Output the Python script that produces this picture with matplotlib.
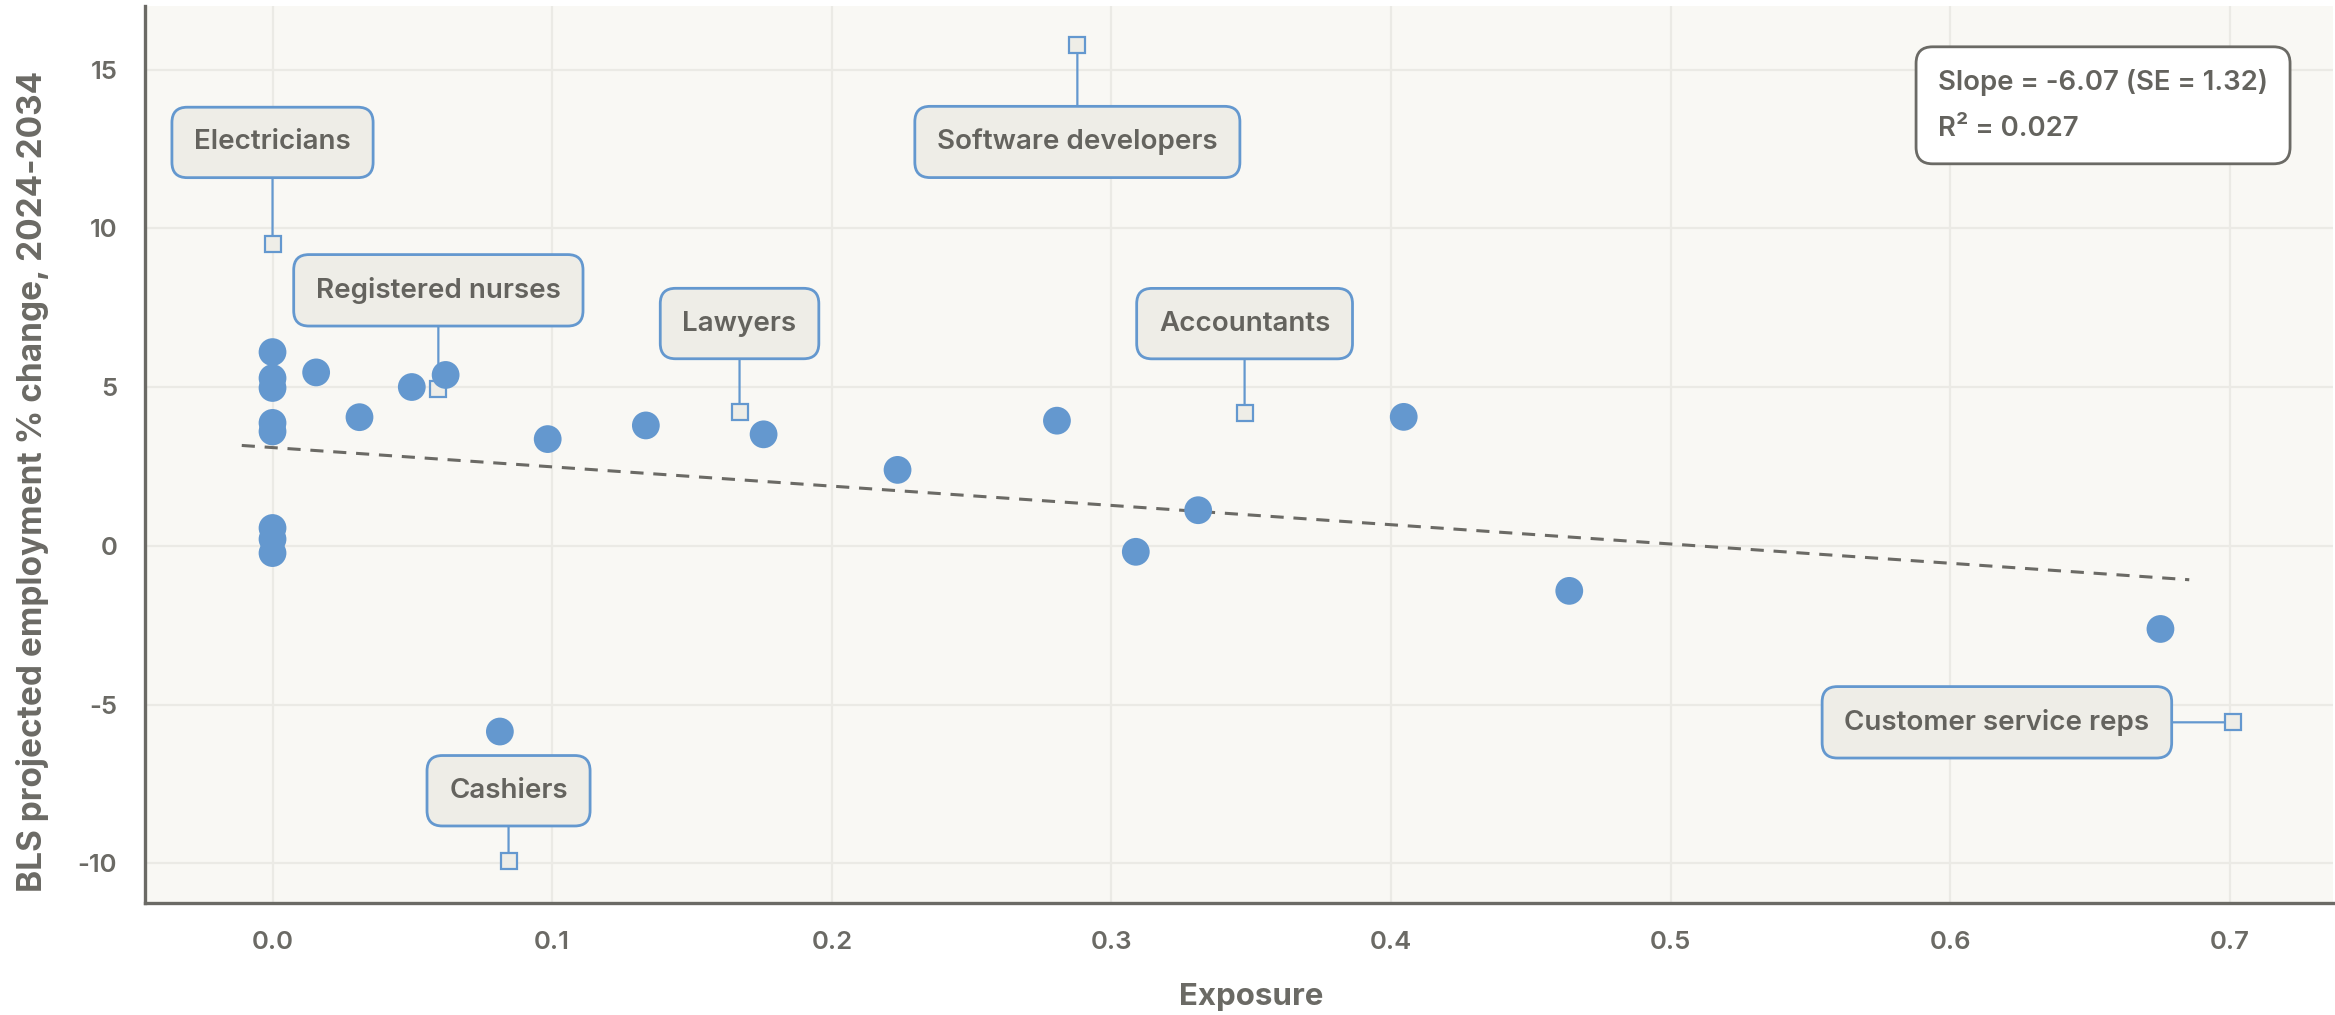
import matplotlib

matplotlib.use("Agg")

import matplotlib.pyplot as plt  # noqa: E402

# --- data ------------------------------------------------------------------
exposure = [0.0, 0.0, 0.0, 0.0, 0.0, 0.0, 0.0, 0.0,
            0.0156, 0.0311, 0.0498, 0.0619, 0.0813, 0.0984, 0.1335, 0.1756,
            0.2235, 0.2805, 0.3087, 0.331, 0.4045, 0.4637, 0.6751]
emp_change = [6.10, 5.28, 4.97, 3.87, 3.60, 0.56, 0.21, -0.23,
              5.46, 4.05, 5.00, 5.38, -5.85, 3.36, 3.79, 3.51,
              2.39, 3.94, -0.19, 1.12, 4.06, -1.42, -2.62]

# highlighted occupations (hollow square markers)
occ_names = ["Electricians", "Registered nurses", "Lawyers", "Software developers",
             "Accountants", "Cashiers", "Customer service reps"]
occ_exposure = [0.0, 0.0593, 0.167, 0.2878, 0.3476, 0.0844, 0.7009]
occ_change = [9.51, 4.94, 4.20, 15.78, 4.18, -9.92, -5.56]

# fitted trend line end points
trend_x = [-0.011, 0.6854]
trend_y = [3.16, -1.07]

stats_text = "Slope = -6.07 (SE = 1.32)\nR² = 0.027"
x_ticks = [0.0, 0.1, 0.2, 0.3, 0.4, 0.5, 0.6, 0.7]
y_ticks = [-10, -5, 0, 5, 10, 15]

# label box offsets from each marker, in points (layout only)
label_offsets = [(0, 73), (0, 71), (0, 64), (0, -70), (0, 64.4), (0, 50.4), (-169.7, 0)]

# --- style ------------------------------------------------------------------
BLUE = "#6498cf"
TEXT = "#6b6a65"
GRID = "#ebeae5"
AX_BG = "#f9f8f4"
BOX_BG = "#eeede7"

plt.rcParams["font.family"] = ["Inter", "DejaVu Sans"]

fig = plt.figure(figsize=(23.35, 10.15), dpi=100, facecolor="white")
ax = fig.add_axes([145 / 2335, 1 - 903.3 / 1015, 2188 / 2335, 897.3 / 1015])
ax.set_facecolor(AX_BG)

ax.set_xlim(-0.0456, 0.7368)
ax.set_ylim(-11.26, 17.0)
ax.set_xticks(x_ticks)
ax.set_yticks(y_ticks)
ax.set_xticklabels([f"{t:.1f}" for t in x_ticks])
ax.set_yticklabels([str(t) for t in y_ticks])
ax.tick_params(length=0, pad=20, labelsize=18.5, labelcolor=TEXT)
for lab in ax.get_xticklabels() + ax.get_yticklabels():
    lab.set_fontweight("semibold")

ax.grid(color=GRID, linewidth=1.6)
ax.set_axisbelow(True)
for side in ("top", "right"):
    ax.spines[side].set_visible(False)
for side in ("left", "bottom"):
    ax.spines[side].set_color(TEXT)
    ax.spines[side].set_linewidth(2.4)

# trend line
ax.plot(trend_x, trend_y, color=TEXT, linewidth=2.2, linestyle=(0, (4.3, 3.2)), zorder=2)

# highlighted occupations
for name, x, y, off in zip(occ_names, occ_exposure, occ_change, label_offsets):
    ax.annotate(name, (x, y), xytext=off, textcoords="offset points",
                ha="center", va="center", fontsize=20, fontweight="semibold", color="#64635e",
                bbox=dict(boxstyle="round,pad=0.8,rounding_size=0.55",
                          facecolor=BOX_BG, edgecolor=BLUE, linewidth=2.0),
                arrowprops=dict(arrowstyle="-", color=BLUE, linewidth=1.6,
                                shrinkA=0, shrinkB=0),
                zorder=3)
ax.plot(occ_exposure, occ_change, linestyle="none", marker="s", markersize=11,
        markerfacecolor=BOX_BG, markeredgecolor=BLUE, markeredgewidth=1.6, zorder=3.5)

# all occupations
ax.scatter(exposure, emp_change, s=400, color=BLUE, edgecolors="none", zorder=4)

# regression stats box
ax.text(0.8195, 0.93, stats_text, transform=ax.transAxes, ha="left", va="top",
        fontsize=19.8, fontweight="semibold", color="#64635e", linespacing=2.0,
        bbox=dict(boxstyle="round,pad=0.8,rounding_size=0.6",
                  facecolor="white", edgecolor=TEXT, linewidth=2.0),
        zorder=5)

# axis titles
fig.text(1250.7 / 2335, 1 - 1005 / 1015, "Exposure", ha="center", va="baseline",
         fontsize=22.5, fontweight="bold", color=TEXT)
fig.text(33 / 2335, 1 - 481.7 / 1015, "BLS projected employment % change, 2024-2034",
         ha="center", va="center", rotation=90,
         fontsize=24, fontweight="bold", color=TEXT)

fig.savefig("out.png", dpi=100, facecolor="white")
